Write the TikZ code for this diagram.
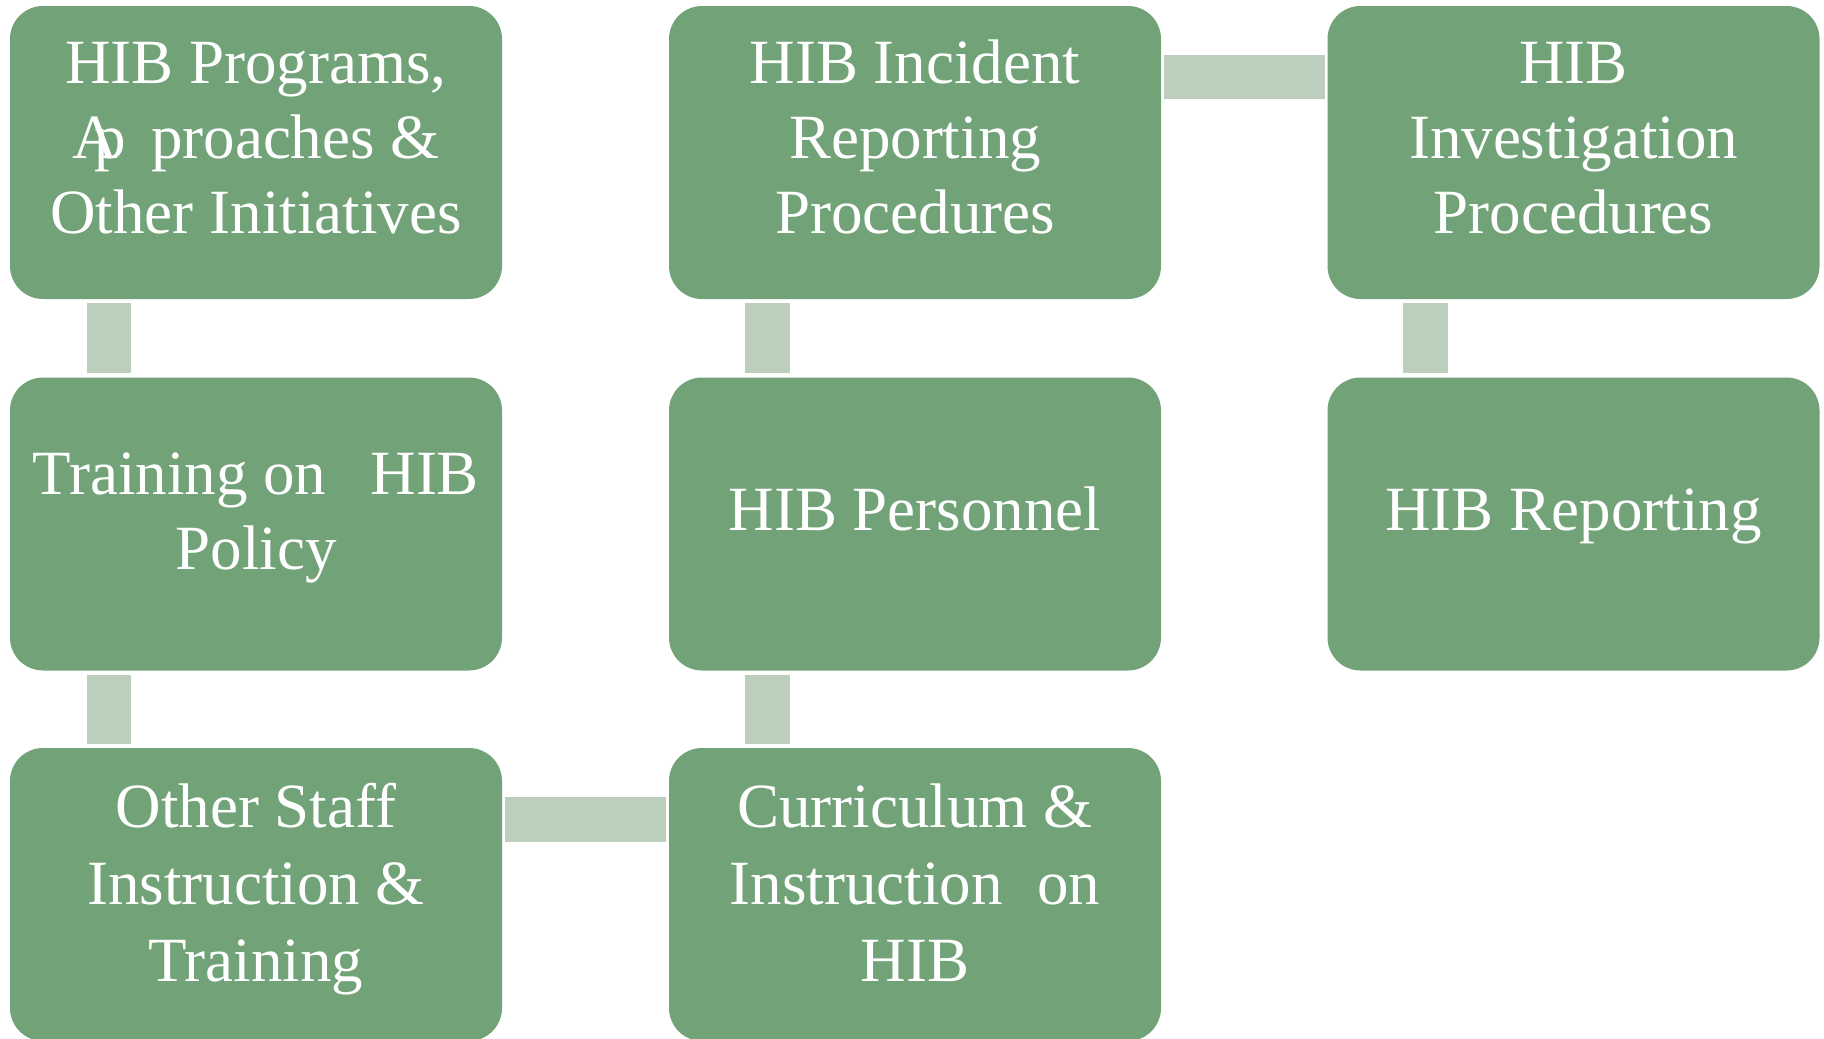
\documentclass[tikz,border=0pt]{standalone}
\usepackage{fontspec}
\setmainfont{Liberation Serif}
\usetikzlibrary{calc}
\definecolor{boxgreen}{RGB}{113,162,120}
\definecolor{conngreen}{RGB}{187,207,188}
\tikzset{
  hbox/.style={draw=none, fill=boxgreen, rounded corners=33pt, minimum width=492pt, minimum height=293pt, inner sep=0pt},
  htxt/.style={text=white, align=center, inner sep=0pt, anchor=north, font=\fontsize{63}{75}\selectfont},
  htxtwide/.style={htxt, font=\fontsize{63}{77}\selectfont},
  conn/.style={fill=conngreen, draw=none}
}
\newcommand{\firststrut}{\rule{0pt}{48pt}}
\begin{document}
\begin{tikzpicture}[x=1pt,y=-1pt]
\useasboundingbox (0,0) rectangle (1824,1039);
% boxes
\node[hbox] (b1) at (256,152.5) {};
\node[hbox] (b2) at (256,524) {};
\node[hbox] (b3) at (256,894.5) {};
\node[hbox] (b4) at (915,152.5) {};
\node[hbox] (b5) at (915,524) {};
\node[hbox] (b6) at (915,894.5) {};
\node[hbox] (b7) at (1573.5,152.5) {};
\node[hbox] (b8) at (1573.5,524) {};
% connectors
\fill[conn] ([xshift=77pt,yshift=-4pt]b1.south west) rectangle ([xshift=121pt,yshift=4pt]b2.north west);
\fill[conn] ([xshift=77pt,yshift=-4pt]b2.south west) rectangle ([xshift=121pt,yshift=4pt]b3.north west);
\fill[conn] ([xshift=3pt,yshift=-49pt]b3.north east) rectangle ([xshift=-3pt,yshift=-94pt]b6.north west);
\fill[conn] ([xshift=76pt,yshift=-4pt]b5.south west) rectangle ([xshift=121pt,yshift=4pt]b6.north west);
\fill[conn] ([xshift=76pt,yshift=-4pt]b4.south west) rectangle ([xshift=121pt,yshift=4pt]b5.north west);
\fill[conn] ([xshift=3pt,yshift=-49pt]b4.north east) rectangle ([xshift=-2pt,yshift=-93pt]b7.north west);
\fill[conn] ([xshift=76pt,yshift=-4pt]b7.south west) rectangle ([xshift=121pt,yshift=4pt]b8.north west);
% texts
\node[htxt] (t1) at (256,35) {\firststrut HIB Programs,\\A\kern-0.37em p\hspace{0.4em}proaches \&\\Other Initiatives};
\node[htxt] (t2) at (256,446) {\firststrut Training on\hspace{0.7em}HIB\\Policy};
\node[htxtwide] (t3) at (256,779) {\firststrut Other Staff\\Instruction \&\\Training};
\node[htxt] (t4) at (915,35) {\firststrut HIB Incident\\Reporting\\Procedures};
\node[htxt] (t5) at (915,482) {\firststrut HIB Personnel};
\node[htxtwide] (t6) at (915,779) {\firststrut Curriculum \&\\Instruction\hspace{0.55em}on\\HIB};
\node[htxt] (t7) at (1573.5,35) {\firststrut HIB\\Investigation\\Procedures};
\node[htxt] (t8) at (1573.5,482) {\firststrut HIB Reporting};
\end{tikzpicture}
\end{document}
